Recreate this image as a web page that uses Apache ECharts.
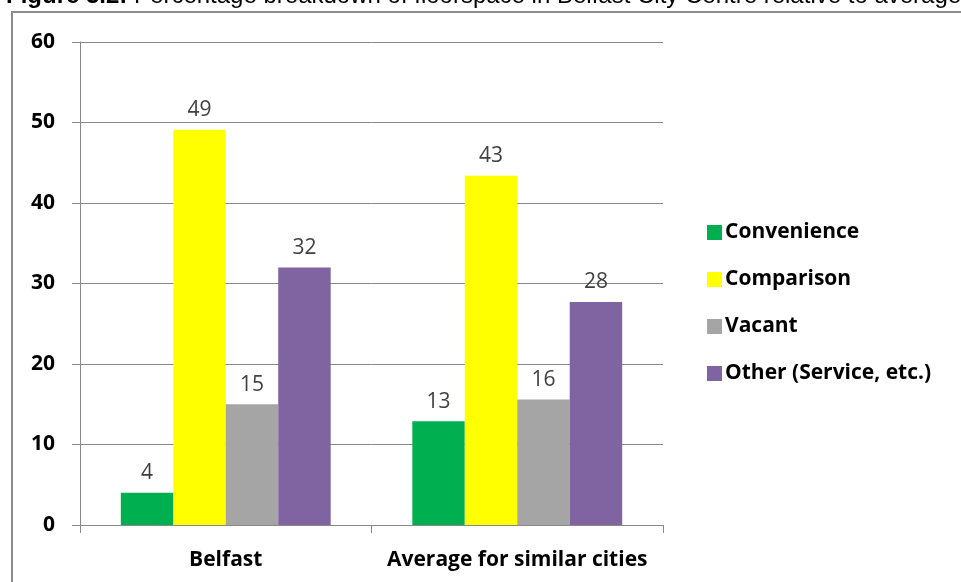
<!DOCTYPE html>
<html>
<head>
<meta charset="utf-8">
<script src="https://cdn.jsdelivr.net/npm/echarts@6/dist/echarts.min.js"></script>
<style>
  html, body { margin: 0; padding: 0; background: #fff; }
  #main { width: 961px; height: 582px; }
</style>
</head>
<body>
<div id="main"></div>
<script>
  // data
  var categories = ['Belfast', 'Average for similar cities'];
  var seriesNames = ['Convenience', 'Comparison', 'Vacant', 'Other (Service, etc.)'];
  var convenience = [4, 12.9];
  var comparison = [49.1, 43.4];
  var vacant = [15, 15.6];
  var other = [32, 27.7];
  var yTicks = [0, 10, 20, 30, 40, 50, 60];
  var colors = ['#00B050', '#FFFF00', '#A5A5A5', '#8064A2'];

  var myChart = echarts.init(document.getElementById('main'));

  function makeSeries(name, data, color) {
    return {
      name: name,
      type: 'bar',
      data: data,
      barGap: 0,
      barCategoryGap: '28%',
      itemStyle: { color: color },
      label: {
        show: true,
        position: 'top',
        distance: 9,
        color: '#404040',
        fontFamily: 'Open Sans',
        fontSize: 21,
        formatter: function (p) { return Math.round(p.value); }
      }
    };
  }

  var option = {
    animation: false,
    textStyle: { fontFamily: 'Open Sans' },
    graphic: [
      {
        type: 'rect',
        shape: { x: 12, y: 12, width: 1000, height: 600 },
        style: { fill: 'none', stroke: '#8c8c8c', lineWidth: 2 },
        silent: true
      },
      {
        type: 'text',
        left: 6,
        top: -16,
        style: {
          text: '{b|Figure 3.2:} Percentage breakdown of floorspace in Belfast City Centre relative to average',
          rich: {
            b: { fontWeight: 'bold', fontFamily: 'Liberation Sans', fontSize: 24, fill: '#000' }
          },
          font: '24px "Liberation Sans"',
          fill: '#000'
        }
      }
    ],
    legend: {
      orient: 'vertical',
      left: 702,
      top: 217,
      itemGap: 26,
      itemWidth: 15,
      itemHeight: 15,
      icon: 'rect',
      data: seriesNames,
      textStyle: { fontSize: 21, fontWeight: 'bold', color: '#000', fontFamily: 'Open Sans', padding: [0, 0, 0, -2] }
    },
    grid: { left: 80, right: 298, top: 42, bottom: 57 },
    xAxis: {
      type: 'category',
      data: categories,
      axisLine: { lineStyle: { color: '#888', width: 1 } },
      axisTick: { show: true, length: 8, lineStyle: { color: '#888' } },
      axisLabel: { interval: 0, hideOverlap: false, margin: 25, fontSize: 21, fontWeight: 'bold', color: '#000' }
    },
    yAxis: {
      type: 'value',
      min: 0,
      max: 60,
      interval: 10,
      axisLine: { show: true, lineStyle: { color: '#888', width: 1 } },
      axisTick: { show: true, length: 8, lineStyle: { color: '#888' } },
      splitLine: { lineStyle: { color: '#888', width: 1 } },
      axisLabel: {
        margin: 25,
        fontSize: 21,
        fontWeight: 'bold',
        color: '#000',
        formatter: function (v) { return yTicks.indexOf(v) >= 0 ? String(v) : ''; }
      }
    },
    series: [
      makeSeries(seriesNames[0], convenience, colors[0]),
      makeSeries(seriesNames[1], comparison, colors[1]),
      makeSeries(seriesNames[2], vacant, colors[2]),
      makeSeries(seriesNames[3], other, colors[3])
    ]
  };

  myChart.setOption(option);
</script>
</body>
</html>
